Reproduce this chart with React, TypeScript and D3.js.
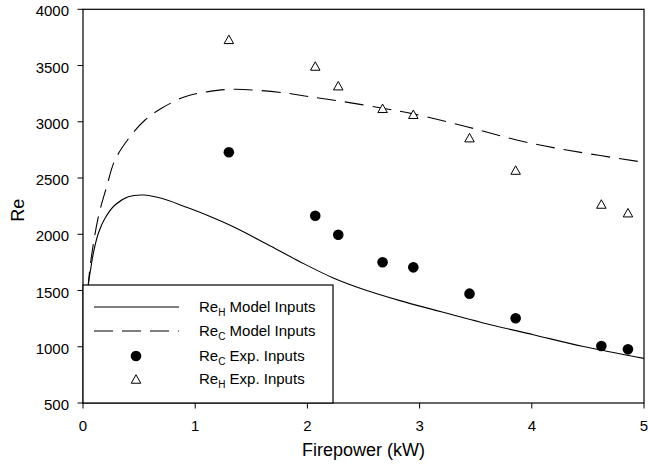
import React from "react";
import * as d3 from "d3";

// ---- Data ----
const xTicks = [0, 1, 2, 3, 4, 5];
const yTicks = [500, 1000, 1500, 2000, 2500, 3000, 3500, 4000];

// Re_H model curve (solid)
const reHModelX = [0.03, 0.047, 0.07, 0.092, 0.137, 0.196, 0.285, 0.404, 0.537, 0.7, 0.909, 1.117, 1.34, 1.637, 1.934, 2.23, 2.53, 2.825, 3.12, 3.568, 4.013, 4.459, 5.0];
const reHModelY = [1200, 1549, 1700, 1831, 2009, 2142, 2260, 2334, 2349, 2320, 2245, 2165, 2067, 1914, 1756, 1612, 1500, 1410, 1330, 1212, 1107, 1002, 897];

// Re_C model curve (dashed)
const reCModelX = [0.03, 0.047, 0.071, 0.137, 0.211, 0.285, 0.419, 0.553, 0.7, 0.909, 1.117, 1.34, 1.78, 2.02, 2.32, 2.67, 2.944, 3.42, 3.865, 4.31, 5.0];
const reCModelY = [1250, 1549, 1771, 2156, 2423, 2660, 2868, 3016, 3120, 3223, 3268, 3289, 3259, 3223, 3179, 3120, 3070, 2956, 2838, 2749, 2640];

// Experimental inputs
const expX = [1.3, 2.07, 2.275, 2.67, 2.944, 3.445, 3.856, 4.62, 4.857];
const reHExp = [3733, 3496, 3321, 3120, 3067, 2859, 2571, 2269, 2192];
const reCExp = [2729, 2165, 1996, 1751, 1706, 1472, 1253, 1007, 977];

const W = 648;
const H = 466;
const FONT = "Arial, 'Liberation Sans', Helvetica, sans-serif";

export default function App() {
  const x = d3.scaleLinear().domain([0, 5]).range([83, 644]);
  const y = d3.scaleLinear().domain([500, 4000]).range([403, 9.3]);

  const line = d3
    .line<[number, number]>()
    .x((d) => x(d[0]))
    .y((d) => y(d[1]))
    .curve(d3.curveCatmullRom.alpha(0.5));

  const hPts: [number, number][] = reHModelX.map((v, i) => [v, reHModelY[i]]);
  const cPts: [number, number][] = reCModelX.map((v, i) => [v, reCModelY[i]]);

  const tri = (cx: number, cy: number) => {
    const w = 9.5;
    const h = 8.5;
    return `M${cx},${cy - h / 2}L${cx + w / 2},${cy + h / 2}L${cx - w / 2},${cy + h / 2}Z`;
  };

  const [x0, x1] = x.range();
  const [y0, y1] = y.range();

  // legend geometry
  const lgX0 = 83, lgY0 = 285, lgX1 = 333, lgY1 = 403;
  const rows = [307, 331, 356, 379];
  const lineA = 94, lineB = 179, markX = 136, textX = 199;

  const label = (sub: string, rest: string, yy: number) => (
    <text x={textX} y={yy + 5} fontSize={15} fontFamily={FONT} fill="#000">
      Re
      <tspan fontSize={10} dy={4}>{sub}</tspan>
      <tspan dy={-4}>{" " + rest}</tspan>
    </text>
  );

  return (
    <svg
      width={W}
      height={H}
      viewBox={`0 0 ${W} ${H}`}
      style={{ position: "absolute", left: 0, top: 0, background: "#fff" }}
    >
      <rect x={0} y={0} width={W} height={H} fill="#fff" />
      <defs>
        <clipPath id="plotclip">
          <rect x={x0} y={y1} width={x1 - x0} height={y0 - y1} />
        </clipPath>
      </defs>

      {/* curves */}
      <g clipPath="url(#plotclip)">
        <path d={line(hPts) || ""} fill="none" stroke="#000" strokeWidth={1.1} />
        <path d={line(cPts) || ""} fill="none" stroke="#000" strokeWidth={1.1} strokeDasharray="19,9" />
      </g>

      {/* experimental points */}
      {expX.map((v, i) => (
        <circle key={"c" + i} cx={x(v)} cy={y(reCExp[i])} r={5.3} fill="#000" />
      ))}
      {expX.map((v, i) => (
        <path key={"t" + i} d={tri(x(v), y(reHExp[i]))} fill="#fff" stroke="#000" strokeWidth={1} />
      ))}

      {/* frame */}
      <rect x={x0} y={y1} width={x1 - x0} height={y0 - y1} fill="none" stroke="#000" strokeWidth={1.2} />

      {/* x axis ticks */}
      {xTicks.map((t) => (
        <g key={"xt" + t}>
          <line x1={x(t)} x2={x(t)} y1={y0} y2={y0 + 5.5} stroke="#000" strokeWidth={1} />
          <text x={x(t)} y={y0 + 28} textAnchor="middle" fontSize={15} fontFamily={FONT} fill="#000">
            {t}
          </text>
        </g>
      ))}
      {/* y axis ticks */}
      {yTicks.map((t) => (
        <g key={"yt" + t}>
          <line x1={x0 - 5.5} x2={x0} y1={y(t)} y2={y(t)} stroke="#000" strokeWidth={1} />
          <text x={69} y={y(t) + 7} textAnchor="end" fontSize={15} fontFamily={FONT} fill="#000">
            {t}
          </text>
        </g>
      ))}

      {/* axis titles */}
      <text x={(x0 + x1) / 2} y={456} textAnchor="middle" fontSize={18} fontFamily={FONT} fill="#000">
        Firepower (kW)
      </text>
      <text
        transform={`translate(24,${(y0 + y1) / 2 + 4}) rotate(-90)`}
        textAnchor="middle"
        fontSize={18}
        fontFamily={FONT}
        fill="#000"
      >
        Re
      </text>

      {/* legend */}
      <rect x={lgX0} y={lgY0} width={lgX1 - lgX0} height={lgY1 - lgY0} fill="#fff" stroke="#000" strokeWidth={1.2} />
      <line x1={lineA} x2={lineB} y1={rows[0]} y2={rows[0]} stroke="#000" strokeWidth={1.1} />
      <line x1={lineA} x2={lineB} y1={rows[1]} y2={rows[1]} stroke="#000" strokeWidth={1.1} strokeDasharray="19,9" />
      <circle cx={markX} cy={rows[2]} r={5.3} fill="#000" />
      <path d={tri(markX, rows[3])} fill="#fff" stroke="#000" strokeWidth={1} />
      {label("H", "Model Inputs", rows[0])}
      {label("C", "Model Inputs", rows[1])}
      {label("C", "Exp. Inputs", rows[2])}
      {label("H", "Exp. Inputs", rows[3])}
    </svg>
  );
}
